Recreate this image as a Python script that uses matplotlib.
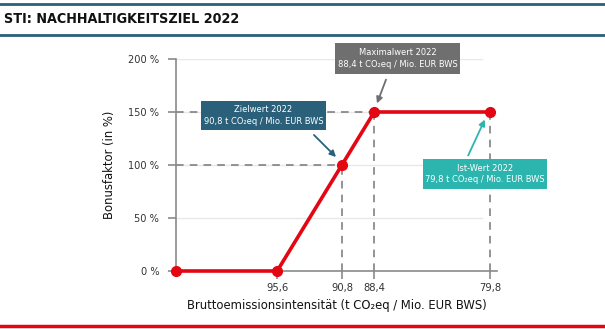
import matplotlib
matplotlib.use("Agg")
import matplotlib.pyplot as plt
from matplotlib.patches import Rectangle, FancyArrowPatch
from matplotlib.lines import Line2D

plt.rcParams['font.family'] = ['DejaVu Sans']
plt.rcParams['font.stretch'] = 'condensed'

# data
x_values = [103.1, 95.6, 90.8, 88.4, 79.8]
bonus_pct = [0, 0, 100, 150, 150]
x_ticks = [95.6, 90.8, 88.4, 79.8]
x_tick_labels = ["95,6", "90,8", "88,4", "79,8"]
y_ticks = [0, 50, 100, 150, 200]
y_tick_labels = ["0 %", "50 %", "100 %", "150 %", "200 %"]
title = "STI: NACHHALTIGKEITSZIEL 2022"
x_label = "Bruttoemissionsintensität (t CO₂eq / Mio. EUR BWS)"
y_label = "Bonusfaktor (in %)"
ann_ziel = "Zielwert 2022\n90,8 t CO₂eq / Mio. EUR BWS"
ann_max = "Maximalwert 2022\n88,4 t CO₂eq / Mio. EUR BWS"
ann_ist = "Ist-Wert 2022\n79,8 t CO₂eq / Mio. EUR BWS"

RED = "#e30613"
BLUE = "#2a6079"
GRAY_BOX = "#6f6f6f"
TEAL = "#2bb5ae"
DASH = "#777777"

W, H = 605, 329
fig = plt.figure(figsize=(W / 100, H / 100), dpi=100)

def fx(px):
    return px / W

def fy(py):
    return 1 - py / H

ax = fig.add_axes([fx(176), fy(271), fx(497) - fx(176), fy(59) - fy(271)])
ax.set_xlim(103.1, 79.3)
ax.set_ylim(0, 200)

for s in ['top', 'right']:
    ax.spines[s].set_visible(False)
for s in ['left', 'bottom']:
    ax.spines[s].set_color("#8a8a8a")
    ax.spines[s].set_linewidth(1.2)

ax.set_xticks(x_ticks)
ax.set_xticklabels(x_tick_labels, fontsize=8, color="#333333")
ax.set_yticks(y_ticks)
ax.set_yticklabels(y_tick_labels, fontsize=7.8, color="#333333")
ax.tick_params(axis='both', colors="#8a8a8a", length=6, width=1.2, labelcolor="#333333")
ax.tick_params(axis='y', pad=6)
ax.tick_params(axis='x', pad=3)

for yv in [50, 100, 150, 200]:
    ax.axhline(yv, xmin=0, xmax=0.953, color="#e8e8e8", lw=1.0, zorder=0)

ax.plot([x_values[0], x_values[2]], [bonus_pct[2], bonus_pct[2]], ls=(0, (5, 4)), color=DASH, lw=1.1, zorder=1)
ax.plot([x_values[0], x_values[3]], [bonus_pct[3], bonus_pct[3]], ls=(0, (5, 4)), color=DASH, lw=1.1, zorder=1)
for i in [2, 3, 4]:
    ax.plot([x_values[i], x_values[i]], [0, bonus_pct[i]], ls=(0, (5, 4)), color=DASH, lw=1.1, zorder=1)

ax.plot(x_values, bonus_pct, color=RED, lw=2.6, marker='o', markersize=7, zorder=5, clip_on=False)

ax.set_xlabel(x_label, fontsize=9.3, color="#111111", labelpad=4)
ax.set_ylabel(y_label, fontsize=9.3, color="#111111", labelpad=9)

fig.add_artist(Line2D([0, 1], [fy(4), fy(4)], color=BLUE, lw=2.0, transform=fig.transFigure))
fig.add_artist(Line2D([0, 1], [fy(35), fy(35)], color=BLUE, lw=2.0, transform=fig.transFigure))
fig.add_artist(Line2D([0, 1], [fy(326), fy(326)], color=RED, lw=2.5, transform=fig.transFigure))
fig.text(fx(4), fy(19), title, fontsize=10.3, fontweight='bold', color="#111111", va='center', ha='left')

def box(x0, y0, x1, y1, color, text, ax0, ay0, ax1, ay1):
    fig.add_artist(Rectangle((fx(x0), fy(y1)), fx(x1) - fx(x0), fy(y0) - fy(y1),
                             transform=fig.transFigure, facecolor=color, edgecolor='none', zorder=10))
    fig.text(fx((x0 + x1) / 2), fy((y0 + y1) / 2), text, color='white', fontsize=6.7,
             ha='center', va='center', linespacing=1.4, zorder=11)
    fig.add_artist(FancyArrowPatch((fx(ax0), fy(ay0)), (fx(ax1), fy(ay1)), transform=fig.transFigure,
                                   arrowstyle='-|>', mutation_scale=9, color=color, lw=1.3, zorder=11))

box(201, 101, 326, 130, BLUE, ann_ziel, 312, 133, 338, 159)
box(335, 43, 460, 74, GRAY_BOX, ann_max, 387, 77, 376, 106)
box(423, 159, 547, 189, TEAL, ann_ist, 467, 158, 486, 117)

fig.savefig("out.png", dpi=100)
